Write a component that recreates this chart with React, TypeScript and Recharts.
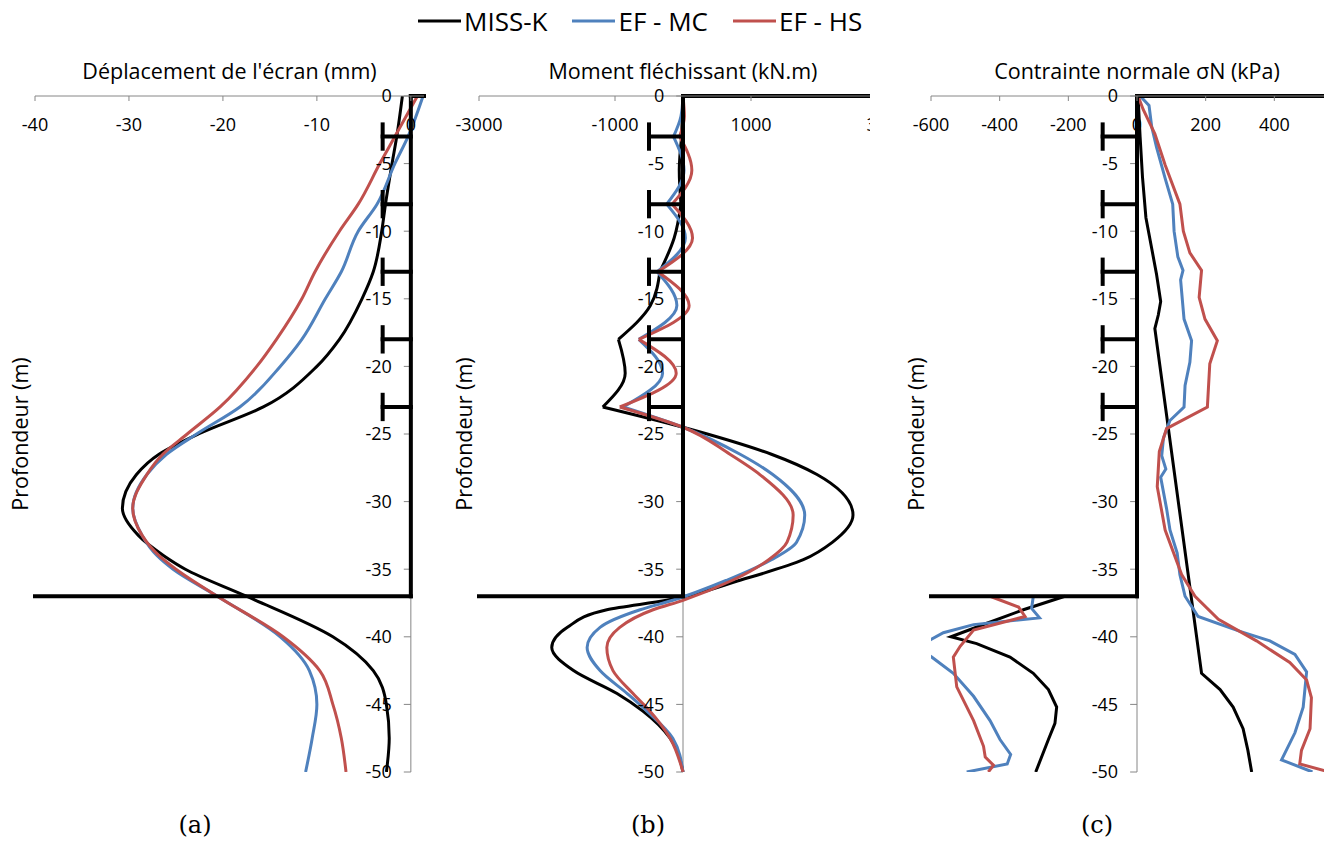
import React from "react";
import {Label, Line, LineChart, ReferenceLine, XAxis, YAxis} from "recharts";

const FONT = '"Open Sans", sans-serif';
const SERIF = '"DejaVu Serif", serif';
const AXIS_GREY = "#868686";
const COLORS = ["#000000", "#4F81BD", "#C0504D"];
const seriesNames = ["MISS-K", "EF - MC", "EF - HS"];
const captions = ["(a)", "(b)", "(c)"];

const depthTicks = [0, -5, -10, -15, -20, -25, -30, -35, -40, -45, -50];
const strutDepths = [-3, -8, -13, -18, -23];
const wallBase = -37;

// (a) déplacement de l'écran (mm)
const depthA = [0, -3, -5, -8, -10, -13, -15, -18, -20, -23, -25, -26.5, -28, -30.5, -32.5, -34, -35, -37, -40, -42.5, -45, -47.5, -50];
const missA = [-0.9, -1.5, -2.0, -2.7, -3.1, -4.0, -5.2, -7.6, -10.0, -15.7, -22.6, -26.8, -29.2, -30.7, -29.0, -26.3, -24.0, -17.5, -8.3, -4.0, -2.6, -2.3, -2.6];
const mcA = [1.3, -0.3, -1.7, -3.6, -5.6, -7.4, -9.1, -11.6, -13.9, -18.2, -22.8, -26.0, -28.1, -29.6, -28.6, -27.0, -25.3, -20.6, -13.9, -10.8, -10.0, -10.5, -11.2];
const hsA = [0.7, -1.7, -3.3, -5.6, -7.6, -10.2, -11.6, -14.3, -16.4, -20.3, -23.8, -26.4, -28.1, -29.6, -28.6, -26.8, -25.0, -20.6, -13.6, -9.7, -8.3, -7.4, -6.9];

// (b) moment fléchissant (kN.m)
const depthB = [0, -1.5, -3, -5.5, -8, -10.5, -13, -15.5, -18, -20.5, -23, -24.5, -26.5, -28, -31, -33, -34.3, -35.8, -37.3, -38, -39.3, -40.8, -42.5, -44.2, -45.5, -47.5, -50];
const missB = [0, -10, -20, -55, -30, -130, -340, -480, -950, -850, -1180, 0, 1300, 1970, 2500, 2200, 1770, 850, -240, -1120, -1700, -1930, -1610, -970, -590, -190, 0];
const mcB = [0, -30, -140, 15, -240, 35, -380, -90, -650, -300, -880, 0, 840, 1320, 1790, 1670, 1300, 650, -150, -630, -1220, -1410, -1220, -820, -530, -150, 0];
const hsB = [0, 20, -50, 130, -160, 140, -370, 90, -650, -100, -930, 0, 690, 1130, 1620, 1530, 1260, 735, 0, -440, -930, -1120, -1030, -735, -485, -190, 0];

// (c) contrainte normale (kPa), côté actif (droite)
const depthMissCR = [0, -3, -6, -9, -11.3, -13.2, -15.2, -16.2, -17.2, -42.7, -43.9, -45.2, -46.8, -48.4, -50];
const missCR = [3, 9, 16, 26, 43, 57, 69, 62, 52, 188, 242, 280, 309, 323, 334];
const depthMcCR = [0, -0.7, -2.3, -3.8, -6.1, -8, -10, -11.9, -12.9, -13.6, -16.5, -18.1, -19.7, -21.4, -23, -24, -25.3, -26.6, -27.6, -28.2, -30.5, -32.1, -33.8, -35.4, -37, -38.5, -39.6, -40.3, -41.3, -42.6, -45.2, -47.1, -49.1, -50];
const mcCR = [9, 35, 43, 57, 82, 104, 108, 119, 134, 127, 137, 159, 154, 140, 137, 96, 77, 72, 84, 69, 86, 96, 117, 125, 140, 178, 300, 387, 460, 494, 484, 460, 421, 511];
const depthHsCR = [0, -1, -2.8, -5.1, -8, -10, -11.6, -12.9, -14.9, -16.5, -18.1, -19.8, -23, -24.6, -26.3, -28.9, -32.1, -35.4, -37, -38.7, -40.3, -41.9, -43.2, -44.5, -46.8, -48.4, -49.4, -50];
const hsCR = [3, 18, 52, 82, 125, 135, 154, 188, 181, 198, 234, 212, 205, 86, 65, 59, 82, 130, 169, 237, 348, 445, 494, 508, 504, 479, 474, 560];

// (c) côté passif (gauche)
const depthMissCL = [-37, -38, -39, -40, -40.5, -41.5, -42.7, -43.9, -45.2, -46.4, -47.6, -50];
const missCL = [-210, -331, -437, -542, -467, -370, -302, -258, -234, -239, -258, -295];
const depthMcCL = [-37, -37.9, -38.6, -39.1, -39.7, -40.2, -40.8, -41.5, -42.7, -44.4, -46.2, -47.6, -48.7, -49.4, -50];
const mcCL = [-302, -307, -284, -476, -564, -600, -640, -598, -535, -476, -428, -399, -368, -378, -496];
const depthHsCL = [-37, -37.8, -38.5, -39.5, -40.7, -41.5, -43.7, -46.2, -48.1, -48.9, -49.5, -50];
const hsCL = [-428, -345, -326, -476, -515, -535, -525, -476, -447, -442, -418, -433];

type Pt = {d: number; v: number};
type Trace = {color: string; rows: Pt[]; curve: "monotone" | "linear"};

const toRows = (depths: number[], values: number[]): Pt[] => depths.map((d, i) => ({d, v: values[i]}));

// moment has kinks at the struts, so each span between struts gets its own smooth piece
const splitAtStruts = (rows: Pt[]): Pt[][] => {
	const bounds = [0, ...strutDepths, -50];
	return bounds.slice(0, -1).map((top, i) => rows.filter((r) => r.d <= top && r.d >= bounds[i + 1]));
};

const CHART_TOP = 40;
const CHART_HEIGHT = 742;
const Y_AXIS_WIDTH = 30;

type PanelProps = {
	left: number;
	clipWidth: number;
	plotWidth: number;
	title: string;
	domain: [number, number];
	ticks: number[];
	tickLen: number;
	strutLen: number;
	traces: Trace[];
};

function Panel({left, clipWidth, plotWidth, title, domain, ticks, tickLen, strutLen, traces}: PanelProps) {
	const structure: [number, number, number, number][] = [
		[0, 0, 0, wallBase],
		[domain[0], wallBase, 0, wallBase],
		[0, 0, domain[1], 0],
		...strutDepths.flatMap((s): [number, number, number, number][] => [
			[-strutLen, s, 0, s],
			[-strutLen, s + 0.9, -strutLen, s - 0.9],
		]),
	];

	return (
		<div style={{position: "absolute", left, top: CHART_TOP, width: clipWidth, height: CHART_HEIGHT, overflow: "hidden"}}>
			<LineChart width={Y_AXIS_WIDTH + plotWidth + 10} height={CHART_HEIGHT} layout="vertical"
			           margin={{top: 42, right: 10, bottom: 10, left: 0}}>
				<XAxis type="number" orientation="top" domain={domain} ticks={ticks} interval={0} allowDataOverflow
				       height={14} stroke={AXIS_GREY} tickSize={-5} tickMargin={-30}
				       tick={{fill: "#000", fontSize: 18, fontFamily: FONT}}>
					<Label value={title} position="top" offset={3} fill="#000" fontSize={21.5} fontFamily={FONT}/>
				</XAxis>
				<YAxis type="number" dataKey="d" domain={[-50, 0]} reversed allowDataOverflow width={Y_AXIS_WIDTH}
				       tick={false} tickLine={false} axisLine={false}>
					<Label value="Profondeur (m)" angle={-90} position="center" fill="#000" fontSize={21.5} fontFamily={FONT}/>
				</YAxis>

				<ReferenceLine x={0} stroke={AXIS_GREY} strokeWidth={1}/>
				{depthTicks.map((t) => (
					<ReferenceLine key={`t${t}`} segment={[{x: -tickLen, y: t}, {x: 0, y: t}]} stroke={AXIS_GREY} strokeWidth={1}>
						<Label value={String(t)} position="left" offset={12} fill="#000" fontSize={18} fontFamily={FONT}/>
					</ReferenceLine>
				))}

				{traces.map((tr, i) => (
					<Line key={`l${i}`} data={tr.rows} dataKey="v" type={tr.curve} stroke={tr.color} strokeWidth={3}
					      dot={false} activeDot={false} legendType="none" isAnimationActive={false}/>
				))}

				{structure.map(([x1, y1, x2, y2], i) => (
					<ReferenceLine key={`s${i}`} segment={[{x: x1, y: y1}, {x: x2, y: y2}]} stroke="#000"
					               strokeWidth={4} strokeLinecap="square"/>
				))}
			</LineChart>
		</div>
	);
}

const tracesA: Trace[] = [missA, mcA, hsA].map((vals, i) => ({color: COLORS[i], rows: toRows(depthA, vals), curve: "monotone"}));

const tracesB: Trace[] = [missB, mcB, hsB].flatMap((vals, i) =>
	splitAtStruts(toRows(depthB, vals)).map((rows) => ({color: COLORS[i], rows, curve: "monotone" as const})));

const tracesC: Trace[] = [
	[depthMissCR, missCR, depthMissCL, missCL],
	[depthMcCR, mcCR, depthMcCL, mcCL],
	[depthHsCR, hsCR, depthHsCL, hsCL],
].flatMap(([dr, vr, dl, vl], i) => [
	{color: COLORS[i], rows: toRows(dr, vr), curve: "linear" as const},
	{color: COLORS[i], rows: toRows(dl, vl), curve: "linear" as const},
]);

export default function App() {
	return (
		<div style={{position: "absolute", left: 0, top: 0, width: 1324, height: 843, overflow: "hidden",
			background: "#fff", fontFamily: FONT, color: "#000"}}>
			<div style={{position: "absolute", left: 418, top: 0, height: 42, display: "flex", alignItems: "center", gap: 25, fontSize: 26}}>
				{seriesNames.map((name, i) => (
					<div key={name} style={{display: "flex", alignItems: "center"}}>
						<svg width={43} height={6}>
							<line x1={0} y1={3} x2={43} y2={3} stroke={COLORS[i]} strokeWidth={3}/>
						</svg>
						<span style={{marginLeft: 3}}>{name}</span>
					</div>
				))}
			</div>

			<Panel left={5} clipWidth={430} plotWidth={389} title="Déplacement de l'écran (mm)"
			       domain={[-40, 1.4]} ticks={[-40, -30, -20, -10, 0]} tickLen={0.75} strutLen={3} traces={tracesA}/>
			<Panel left={449} clipWidth={421} plotWidth={408} title="Moment fléchissant (kN.m)"
			       domain={[-3000, 3000]} ticks={[-3000, -1000, 1000, 3000]} tickLen={100} strutLen={500} traces={tracesB}/>
			<Panel left={901} clipWidth={423} plotWidth={412} title="Contrainte normale σN (kPa)"
			       domain={[-600, 600]} ticks={[-600, -400, -200, 0, 200, 400, 600]} tickLen={20} strutLen={100} traces={tracesC}/>

			{captions.map((c, i) => (
				<div key={c} style={{position: "absolute", left: [195, 648, 1097][i] - 50, top: 811, width: 100,
					textAlign: "center", fontFamily: SERIF, fontSize: 24, lineHeight: "28px"}}>{c}</div>
			))}
		</div>
	);
}
